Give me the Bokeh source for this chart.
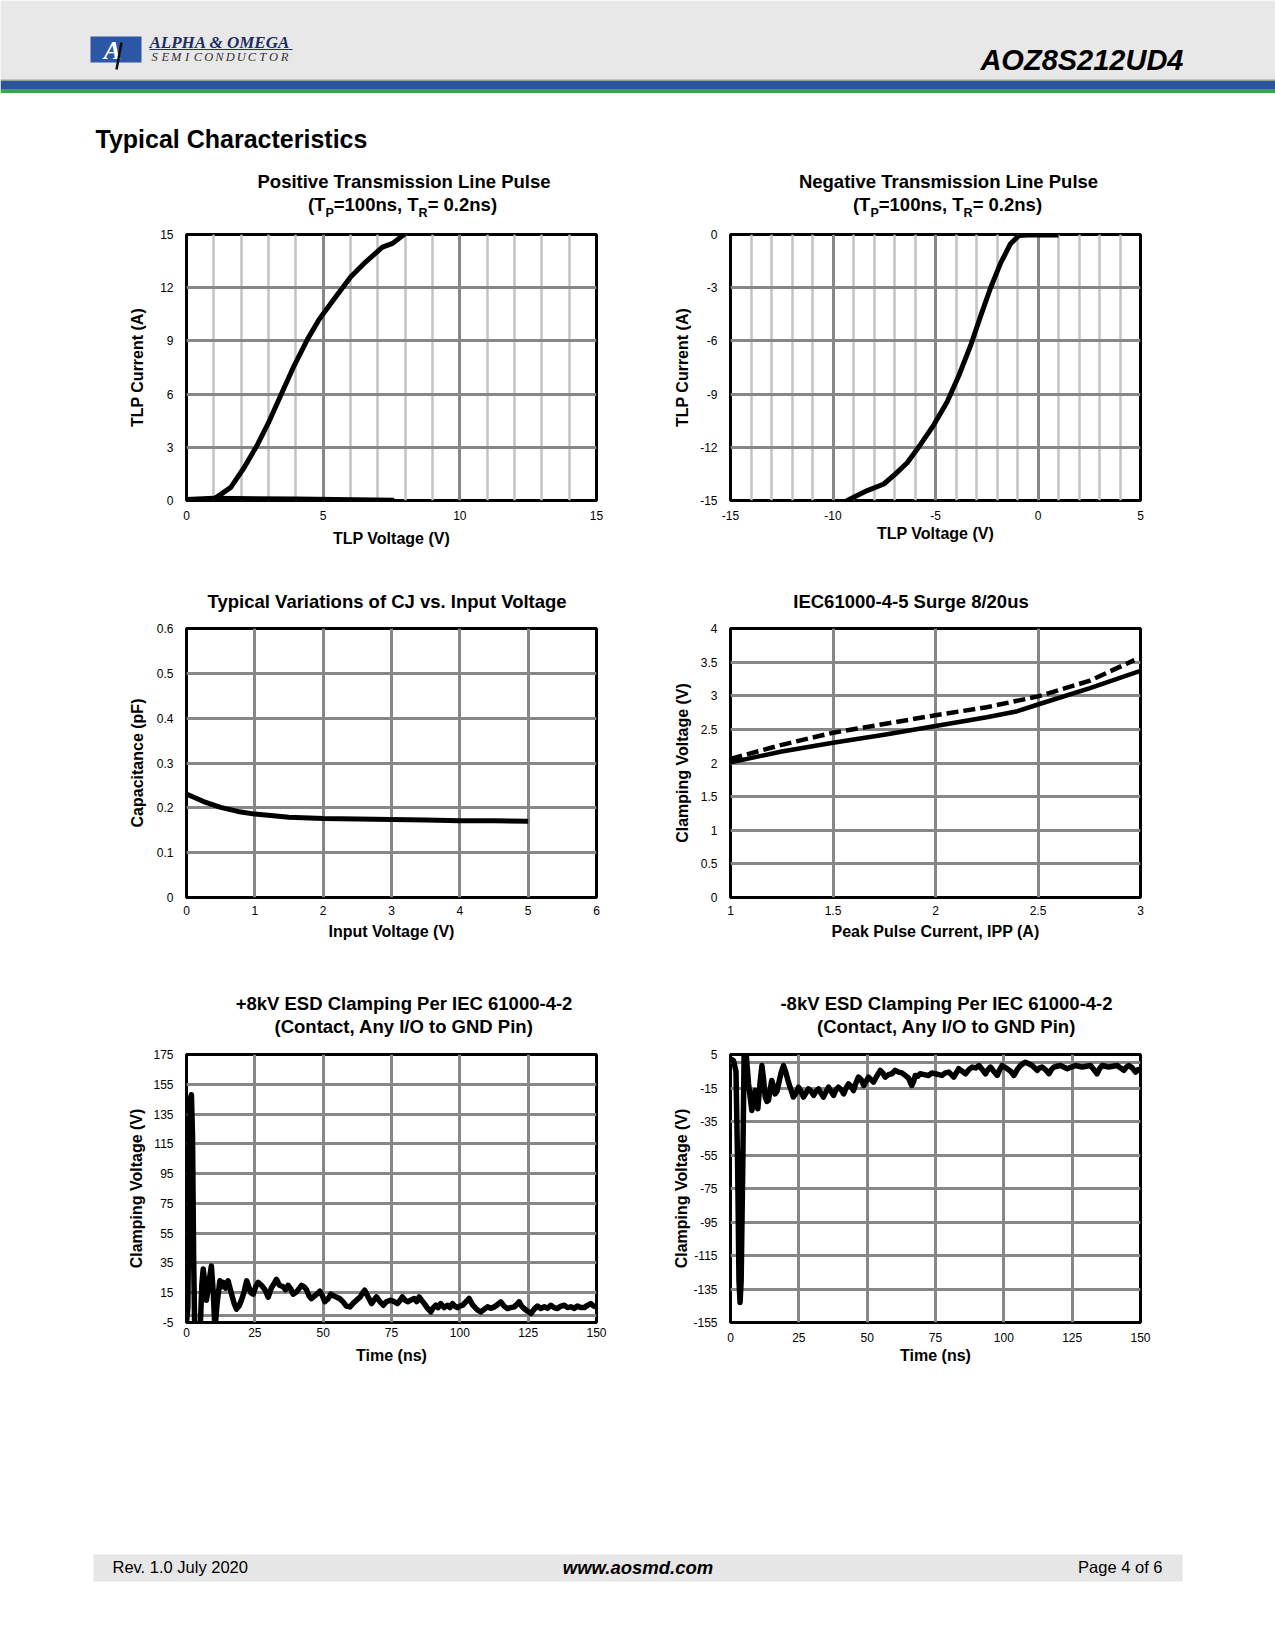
from bokeh.plotting import figure
from bokeh.layouts import column, row
from bokeh.models import Range1d, FixedTicker
from bokeh.core.properties import value
from bokeh.embed import file_html
from bokeh.resources import INLINE

SANS = "Liberation Sans"
SERIF = "Liberation Serif"

# ---------------- data ----------------
# Positive TLP
tlp_pos_voltage = [1.0, 1.07, 1.62, 2.11, 2.60, 3.02, 3.45, 3.94, 4.43, 4.85, 5.34, 6.01, 6.56, 7.17, 7.54, 7.96, 8.1]
tlp_pos_current = [0.0, 0.15, 0.74, 1.86, 3.16, 4.45, 5.94, 7.61, 9.10, 10.21, 11.23, 12.62, 13.46, 14.29, 14.50, 15.0, 15.3]
tlp_pos_off_voltage = [0.0, 1.0, 4.0, 7.6]
tlp_pos_off_current = [0.06, 0.12, 0.08, 0.02]

# Negative TLP
tlp_neg_voltage = [-9.6, -9.31, -8.33, -7.52, -6.95, -6.38, -5.73, -5.08, -4.43, -3.86, -3.29, -2.80, -2.32, -1.83, -1.34, -0.93, -0.5, 1.0]
tlp_neg_current = [-15.3, -15.0, -14.44, -14.07, -13.5, -12.87, -11.84, -10.73, -9.43, -7.95, -6.27, -4.60, -3.03, -1.63, -0.52, -0.06, -0.03, -0.03]

# Capacitance vs input voltage
cap_voltage = [0.0, 0.25, 0.5, 0.75, 1.0, 1.5, 2.0, 2.5, 3.0, 3.5, 4.0, 4.5, 5.0]
cap_pf = [0.231, 0.214, 0.201, 0.192, 0.186, 0.179, 0.176, 0.175, 0.174, 0.173, 0.171, 0.171, 0.170]

# Surge 8/20us
surge_ipp = [1.0, 1.25, 1.5, 1.75, 2.0, 2.25, 2.4, 2.5, 2.75, 3.0]
surge_vc = [2.01, 2.17, 2.30, 2.42, 2.55, 2.68, 2.77, 2.87, 3.11, 3.37]
surge_ipp_b = [1.0, 1.25, 1.5, 1.75, 2.0, 2.25, 2.5, 2.75, 2.97]
surge_vc_b = [2.06, 2.27, 2.45, 2.58, 2.71, 2.83, 2.99, 3.22, 3.53]

# +8kV ESD
esd_pos_t = [0, 0.5, 1.0, 1.4, 1.8, 2.2, 2.6, 3.0, 4.0, 5.0, 5.6, 6.1, 6.7, 7.3, 8.2, 9.1, 9.8, 10.4, 11.2,
             12.2, 12.8, 13.4, 14.3, 15.2, 16.5, 17.4, 18.3, 19.2, 20.1, 21.0, 22.0, 22.6, 23.5, 24.4, 25.3,
             26.2, 27.4, 28.7, 29.9, 31.0, 32.0, 32.9, 34.0, 35.4, 36.2, 37.2, 38.0, 39.0, 40.5, 42.1, 43.0,
             43.9, 44.8, 45.7, 47.0, 48.8, 49.7, 50.6, 51.8, 52.8, 53.7, 55.0, 56.1, 57.2, 58.5, 59.8, 61.0,
             62.2, 63.5, 64.5, 65.2, 66.5, 67.7, 68.6, 69.5, 70.8, 72.0, 73.2, 74.8, 76.0, 77.2, 78.2, 79.0,
             80.0, 80.9, 82.0, 83.3, 84.2, 85.1, 86.0, 87.0, 88.0, 89.4, 90.3, 91.2, 92.0, 93.0, 94.3, 95.5,
             96.4, 97.3, 98.2, 99.1, 100.0, 101.0, 102.3, 103.4, 104.6, 105.9, 106.8, 107.7, 109.0, 110.1,
             111.3, 112.6, 113.8, 115.0, 116.2, 117.4, 118.6, 119.9, 120.8, 121.7, 122.6, 123.5, 124.8, 126.0,
             127.2, 128.4, 129.6, 130.9, 132.1, 133.3, 134.5, 135.7, 137.0, 138.2, 139.4, 140.6, 141.8, 143.0,
             144.2, 145.5, 146.7, 147.9, 149.0, 150]
esd_pos_v = [-5, 5, 100, 145, 148, 120, 40, -10, -12, -10, 20, 31, 22, 10, 22, 33, 15, -10, 8,
             23, 19, 22, 18, 23, 14, 8, 4, 6, 10, 15, 23, 20, 15, 14, 19,
             22, 20, 17, 12, 18, 21, 24, 20, 19, 17, 20, 18, 14, 16, 20, 19,
             17, 13, 11, 13, 16, 13, 9, 11, 14, 13, 12, 11, 9, 6, 5.5, 8,
             10, 12, 15, 16.7, 12, 7.7, 10, 12.2, 9, 6.6, 9, 10, 9, 7.7, 10, 12.2,
             10, 8.9, 10, 11.1, 9, 12.2, 10, 7.7, 5, 2.1, 5, 6.6, 5, 7.7, 5, 6.6,
             5, 7.7, 6, 5.0, 6, 6.6, 9, 11.1, 7, 4.4, 3, 2.1, 4, 5.5,
             4.5, 5.5, 7, 8.9, 6, 4.4, 5, 5.5, 7, 8.9, 6, 4.4, 2.5, 1.0,
             4, 6.0, 4.5, 5.5, 4.5, 6.6, 5, 4.4, 6, 6.6, 5, 5.5, 4.5, 6.0,
             5, 5.0, 6.5, 7.7, 6, 5.5]

# -8kV ESD
esd_neg_t = [0, 1.1, 2.0, 2.6, 3.1, 3.5, 3.9, 4.5, 5.0, 5.6, 6.6, 7.8, 8.4, 9.0, 9.5, 10.0, 10.8, 11.5, 12.1,
             12.7, 13.3, 13.9, 14.5, 15.1, 15.7, 16.3, 17.0, 17.6, 18.5, 19.4, 20.3, 21.2, 22.1, 23.0, 24.0,
             24.9, 25.8, 26.7, 27.6, 28.5, 29.5, 30.4, 31.3, 32.2, 33.1, 34.0, 35.0, 35.9, 36.8, 37.7, 38.6,
             39.5, 40.5, 41.4, 42.3, 43.2, 44.1, 45.0, 45.9, 46.8, 47.8, 48.7, 49.6, 50.5, 51.4, 52.3, 53.5,
             54.8, 55.7, 56.6, 57.8, 59.0, 60.2, 61.5, 62.7, 63.9, 65.1, 66.3, 67.0, 67.6, 68.5, 69.4, 70.9,
             72.4, 73.7, 75.0, 76.2, 77.4, 78.6, 79.9, 80.8, 81.7, 82.6, 83.5, 84.8, 86.0, 87.2, 88.4, 89.7,
             90.9, 92.1, 93.3, 94.2, 95.1, 96.3, 97.6, 98.5, 99.4, 100.3, 101.2, 102.5, 103.7, 104.9, 106.1,
             107.0, 107.9, 109.1, 110.4, 111.3, 112.2, 113.1, 114.0, 115.2, 116.5, 117.4, 118.3, 119.5, 120.7,
             121.9, 123.2, 124.7, 126.2, 127.4, 128.7, 130.2, 131.7, 132.9, 134.1, 135.0, 136.0, 137.2, 138.4,
             139.9, 141.5, 142.7, 143.9, 144.8, 145.7, 147.0, 148.2, 149.1, 150]
esd_neg_v = [2.4, 1.4, -5, -60, -130, -143, -130, -60, 8, 8, -12.5, -28.4, -24, -16.5, -18, -27.4, -12, -1.6, -10,
             -20.4, -23, -22.4, -16, -10.5, -14, -18.5, -17, -12.5, -6, -1.6, -6, -11.5, -16, -20.4, -18,
             -14.5, -17, -20.4, -18, -15.5, -17, -19.4, -17, -15.5, -18, -20.4, -17, -14.5, -17, -19.4, -16,
             -14.5, -16, -18.5, -15, -12.5, -14, -16.5, -12, -8.5, -10, -13.5, -11, -8.5, -10, -11.5, -8,
             -4.5, -6, -8.5, -7, -6.5, -4.5, -5.5, -6, -7.5, -9, -13.5, -11, -7.5, -8, -6.5, -7,
             -7.5, -6, -6.5, -7, -7.5, -6, -5.5, -7, -8.5, -6, -3.5, -5, -6.5, -4, -2.5, -3,
             -1.6, -4, -6.5, -4, -2.5, -5, -7.5, -4, -1.6, -2.5, -3.5, -5, -7.5, -4, -1.6,
             -0.5, 0.4, -0.5, -1.6, -3, -4.5, -3, -2.5, -4, -6.5, -4, -2.5, -2, -1.6,
             -2.5, -3.5, -2.5, -1.6, -2, -2.5, -2, -1.6, -4, -6.5, -3.5, -1.6, -2, -2.5,
             -2, -1.6, -3, -4.5, -2.5, -1.6, -3, -5.5, -4, -4.5]

# tick values / labels
c1_xticks = [0, 5, 10, 15]
c1_xlabels = ["0", "5", "10", "15"]
c1_yticks = [0, 3, 6, 9, 12, 15]
c1_ylabels = ["0", "3", "6", "9", "12", "15"]
c2_xticks = [-15, -10, -5, 0, 5]
c2_xlabels = ["-15", "-10", "-5", "0", "5"]
c2_yticks = [-15, -12, -9, -6, -3, 0]
c2_ylabels = ["-15", "-12", "-9", "-6", "-3", "0"]
c3_xticks = [0, 1, 2, 3, 4, 5, 6]
c3_xlabels = ["0", "1", "2", "3", "4", "5", "6"]
c3_yticks = [0, 0.1, 0.2, 0.3, 0.4, 0.5, 0.6]
c3_ylabels = ["0", "0.1", "0.2", "0.3", "0.4", "0.5", "0.6"]
c4_xticks = [1, 1.5, 2, 2.5, 3]
c4_xlabels = ["1", "1.5", "2", "2.5", "3"]
c4_yticks = [0, 0.5, 1, 1.5, 2, 2.5, 3, 3.5, 4]
c4_ylabels = ["0", "0.5", "1", "1.5", "2", "2.5", "3", "3.5", "4"]
esd_xticks = [0, 25, 50, 75, 100, 125, 150]
esd_xlabels = ["0", "25", "50", "75", "100", "125", "150"]
c5_yticks = [-5, 15, 35, 55, 75, 95, 115, 135, 155, 175]
c5_ylabels = ["-5", "15", "35", "55", "75", "95", "115", "135", "155", "175"]
c6_yticks = [-155, -135, -115, -95, -75, -55, -35, -15, 5]
c6_ylabels = ["-155", "-135", "-115", "-95", "-75", "-55", "-35", "-15", "5"]

GRID_DARK = "#878787"
GRID_LIGHT = "#c3c3c3"
TITLE_SIZE = 18.5
SUB_SIZE = 12.5
PAGE_W = 1275

AW_BOLD = {'(': 333, ')': 333, 'T': 611, '=': 584, 'n': 611, 's': 556, ',': 278, ' ': 278, '.': 278,
           'P': 667, 'R': 722}


def tw(s, size):
    return sum(AW_BOLD.get(c, 556) for c in s) * size / 1000.0


def make_chart(fig, frame, xr, yr, xt, xl, yt, yl, xg_major, xg_minor, yg_major,
               xlabel, ylabel, xtick_so, xlab_so, ylab_so):
    fx, fy, fw, fh = fig
    rl, rt, rw, rh = frame
    p = figure(width=fw, height=fh, x_range=Range1d(*xr), y_range=Range1d(*yr),
               output_backend="svg", toolbar_location=None, title=None,
               min_border_left=rl - fx, min_border_right=fx + fw - rl - rw,
               min_border_top=rt - fy, min_border_bottom=fy + fh - rt - rh)
    p.background_fill_color = "white"
    p.border_fill_color = "white"
    p.outline_line_color = "black"
    p.outline_line_width = 3
    for ax in (p.xaxis[0], p.yaxis[0]):
        ax.axis_line_color = None
        ax.major_tick_line_color = None
        ax.minor_tick_line_color = None
        ax.major_tick_out = 0
        ax.major_tick_in = 0
        ax.minor_tick_out = 0
        ax.minor_tick_in = 0
        ax.major_label_text_font = SANS
        ax.major_label_text_font_size = "12px"
        ax.major_label_text_color = "black"
        ax.axis_label_text_font = SANS
        ax.axis_label_text_font_size = "16px"
        ax.axis_label_text_font_style = "bold"
        ax.axis_label_text_color = "black"
    p.xaxis[0].ticker = FixedTicker(ticks=xt)
    p.xaxis[0].major_label_overrides = dict(zip(xt, xl))
    p.yaxis[0].ticker = FixedTicker(ticks=yt)
    p.yaxis[0].major_label_overrides = dict(zip(yt, yl))
    p.xaxis[0].axis_label = xlabel
    p.yaxis[0].axis_label = ylabel
    p.xaxis[0].major_label_standoff = xtick_so
    p.xaxis[0].axis_label_standoff = xlab_so
    p.yaxis[0].major_label_standoff = 13
    p.yaxis[0].axis_label_standoff = ylab_so
    p.xgrid[0].ticker = FixedTicker(ticks=xg_major, minor_ticks=xg_minor)
    p.xgrid[0].grid_line_color = GRID_DARK
    p.xgrid[0].grid_line_width = 3
    p.xgrid[0].minor_grid_line_color = GRID_LIGHT if xg_minor else None
    p.xgrid[0].minor_grid_line_width = 2.5
    p.ygrid[0].ticker = FixedTicker(ticks=yg_major)
    p.ygrid[0].grid_line_color = GRID_DARK
    p.ygrid[0].grid_line_width = 3
    p.ygrid[0].minor_grid_line_color = None
    return p


def strip(y0, y1):
    f = figure(width=PAGE_W, height=y1 - y0, x_range=Range1d(0, PAGE_W), y_range=Range1d(y1, y0),
               x_axis_type=None, y_axis_type=None, toolbar_location=None, output_backend="svg",
               min_border=0, title=None)
    f.outline_line_color = None
    f.background_fill_color = "white"
    f.border_fill_color = "white"
    return f


def put(f, x, y, text, size, style="normal", align="left", font=SANS, color="black"):
    # y is the visual middle of the text line
    f.text(x=[x], y=[y], text=[text], text_font=value(font), text_font_style=style,
           text_font_size=f"{size}px", text_color=color, text_align=align, text_baseline="middle")


def title_text(f, cx, mid, text):
    put(f, cx, mid, text, TITLE_SIZE, style="bold", align="center")


def title_sub_line(f, cx, mid, segments):
    total = sum(tw(s, SUB_SIZE if sub else TITLE_SIZE) for s, sub in segments)
    x = cx - total / 2.0
    for s, sub in segments:
        size = SUB_SIZE if sub else TITLE_SIZE
        put(f, x, mid + (8.5 if sub else 0), s, size, style="bold", align="left")
        x += tw(s, size)


tp_line = [("(T", False), ("P", True), ("=100ns, T", False), ("R", True), ("= 0.2ns)", False)]

# ---------------- header (page y 0..222) ----------------
hdr = strip(0, 222)
hdr.quad(left=0, right=PAGE_W, top=0, bottom=79, fill_color="#e8e8e8", line_color=None)
hdr.quad(left=0, right=PAGE_W, top=79, bottom=80.5, fill_color="#9a9a9a", line_color=None)
hdr.quad(left=0, right=PAGE_W, top=80.5, bottom=88.5, fill_color="#27569a", line_color=None)
hdr.quad(left=0, right=PAGE_W, top=88.5, bottom=92.5, fill_color="#2eaa4c", line_color=None)
# logo
hdr.quad(left=90, right=141, top=36, bottom=62, fill_color="#2c56a6", line_color=None)
put(hdr, 112, 50, "A", 26, style="bold italic", align="center", font=SERIF, color="white")
hdr.segment(x0=[121], y0=[42], x1=[116], y1=[69], line_color="#111111", line_width=2.5)
put(hdr, 149, 41.5, "ALPHA & OMEGA", 17, style="bold italic", font=SERIF, color="#1c2d63")
hdr.segment(x0=[149], y0=[49], x1=[292], y1=[49], line_color="#1c2d63", line_width=1.2)
semi = "SEMICONDUCTOR"
hdr.text(x=[154 + 10.83 * i for i in range(len(semi))], y=[56] * len(semi), text=list(semi),
         text_font=value(SERIF), text_font_style="italic", text_font_size="12.5px",
         text_color="#333333", text_align="center", text_baseline="middle")
put(hdr, 1183, 59, "AOZ8S212UD4", 29, style="bold italic", align="right")
put(hdr, 95, 138, "Typical Characteristics", 25, style="bold")
title_text(hdr, 403.5, 180.5, "Positive Transmission Line Pulse")
title_sub_line(hdr, 402, 203.5, tp_line)
title_text(hdr, 948, 180.5, "Negative Transmission Line Pulse")
title_sub_line(hdr, 947, 203.5, tp_line)

# ---------------- row 1 charts (page y 222..560) ----------------
c1 = make_chart((0, 222, 640, 338), (186, 234, 410, 269), (0, 15), (0, 15),
                c1_xticks, c1_xlabels, c1_yticks, c1_ylabels,
                [5, 10], [1, 2, 3, 4, 6, 7, 8, 9, 11, 12, 13, 14], [3, 6, 9, 12],
                "TLP Voltage (V)", "TLP Current (A)", 10, 7, 11)
c1.line(tlp_pos_off_voltage, tlp_pos_off_current, line_color="black", line_width=5, line_join="round")
c1.line(tlp_pos_voltage, tlp_pos_current, line_color="black", line_width=5, line_join="round")

c2 = make_chart((640, 222, 635, 338), (730, 231, 410, 269), (-15, 5), (-15, 0),
                c2_xticks, c2_xlabels, c2_yticks, c2_ylabels,
                [-10, -5, 0], [-14, -13, -12, -11, -9, -8, -7, -6, -4, -3, -2, -1, 1, 2, 3, 4],
                [-12, -9, -6, -3],
                "TLP Voltage (V)", "TLP Current (A)", 10, 2, 6)
c2.line(tlp_neg_voltage, tlp_neg_current, line_color="black", line_width=5, line_join="round")

# ---------------- row 2 titles (page y 560..615) ----------------
st2 = strip(560, 615)
title_text(st2, 386.6, 600.5, "Typical Variations of CJ vs. Input Voltage")
title_text(st2, 910.5, 600.5, "IEC61000-4-5 Surge 8/20us")

# ---------------- row 2 charts (page y 615..960) ----------------
c3 = make_chart((0, 615, 640, 345), (186, 628, 410, 269), (0, 6), (0, 0.6),
                c3_xticks, c3_xlabels, c3_yticks, c3_ylabels,
                [1, 2, 3, 4, 5], [], [0.1, 0.2, 0.3, 0.4, 0.5],
                "Input Voltage (V)", "Capacitance (pF)", 8, 5, 8)
c3.line(cap_voltage, cap_pf, line_color="black", line_width=5, line_join="round")

c4 = make_chart((640, 615, 635, 345), (730, 628, 410, 269), (1, 3), (0, 4),
                c4_xticks, c4_xlabels, c4_yticks, c4_ylabels,
                [1.5, 2, 2.5], [], [0.5, 1, 1.5, 2, 2.5, 3, 3.5],
                "Peak Pulse Current, IPP (A)", "Clamping Voltage (V)", 8, 5, 7)
c4.line(surge_ipp, surge_vc, line_color="black", line_width=4.5, line_join="round")
c4.line(surge_ipp_b, surge_vc_b, line_color="black", line_width=4.5, line_dash="12 5")

# ---------------- row 3 titles (page y 960..1040) ----------------
st3 = strip(960, 1040)
title_text(st3, 403.5, 1002.5, "+8kV ESD Clamping Per IEC 61000-4-2")
title_text(st3, 403.5, 1025.5, "(Contact, Any I/O to GND Pin)")
title_text(st3, 946, 1002.5, "-8kV ESD Clamping Per IEC 61000-4-2")
title_text(st3, 946, 1025.5, "(Contact, Any I/O to GND Pin)")

# ---------------- row 3 charts (page y 1040..1380) ----------------
c5 = make_chart((0, 1040, 640, 340), (186, 1054, 410, 268), (0, 150), (-5, 175),
                esd_xticks, esd_xlabels, c5_yticks, c5_ylabels,
                [25, 50, 75, 100, 125], [], [0, 15, 35, 55, 75, 95, 115, 135, 155],
                "Time (ns)", "Clamping Voltage (V)", 5, 7, 5)
c5.line(esd_pos_t, esd_pos_v, line_color="black", line_width=5.5, line_join="round")

c6 = make_chart((640, 1040, 635, 340), (730, 1054, 410, 268), (0, 150), (-155, 5),
                esd_xticks, esd_xlabels, c6_yticks, c6_ylabels,
                [25, 50, 75, 100, 125], [], [-135, -115, -95, -75, -55, -35, -15, 0],
                "Time (ns)", "Clamping Voltage (V)", 10, 2, 0)
c6.line(esd_neg_t, esd_neg_v, line_color="black", line_width=5.5, line_join="round")

# ---------------- footer (page y 1380..1640) ----------------
ftr = strip(1380, 1640)
ftr.quad(left=93, right=1182, top=1554, bottom=1581, fill_color="#e6e6e6", line_color=None)
put(ftr, 112, 1566.5, "Rev. 1.0 July 2020", 16.5)
put(ftr, 637.5, 1566.5, "www.aosmd.com", 18.5, style="bold italic", align="center")
put(ftr, 1162, 1566.5, "Page 4 of 6", 16.5, align="right")

page = column(hdr, row(c1, c2), st2, row(c3, c4), st3, row(c5, c6), ftr)
open("out.html", "w").write(file_html(page, INLINE, title="AOZ8S212UD4 Typical Characteristics"))
